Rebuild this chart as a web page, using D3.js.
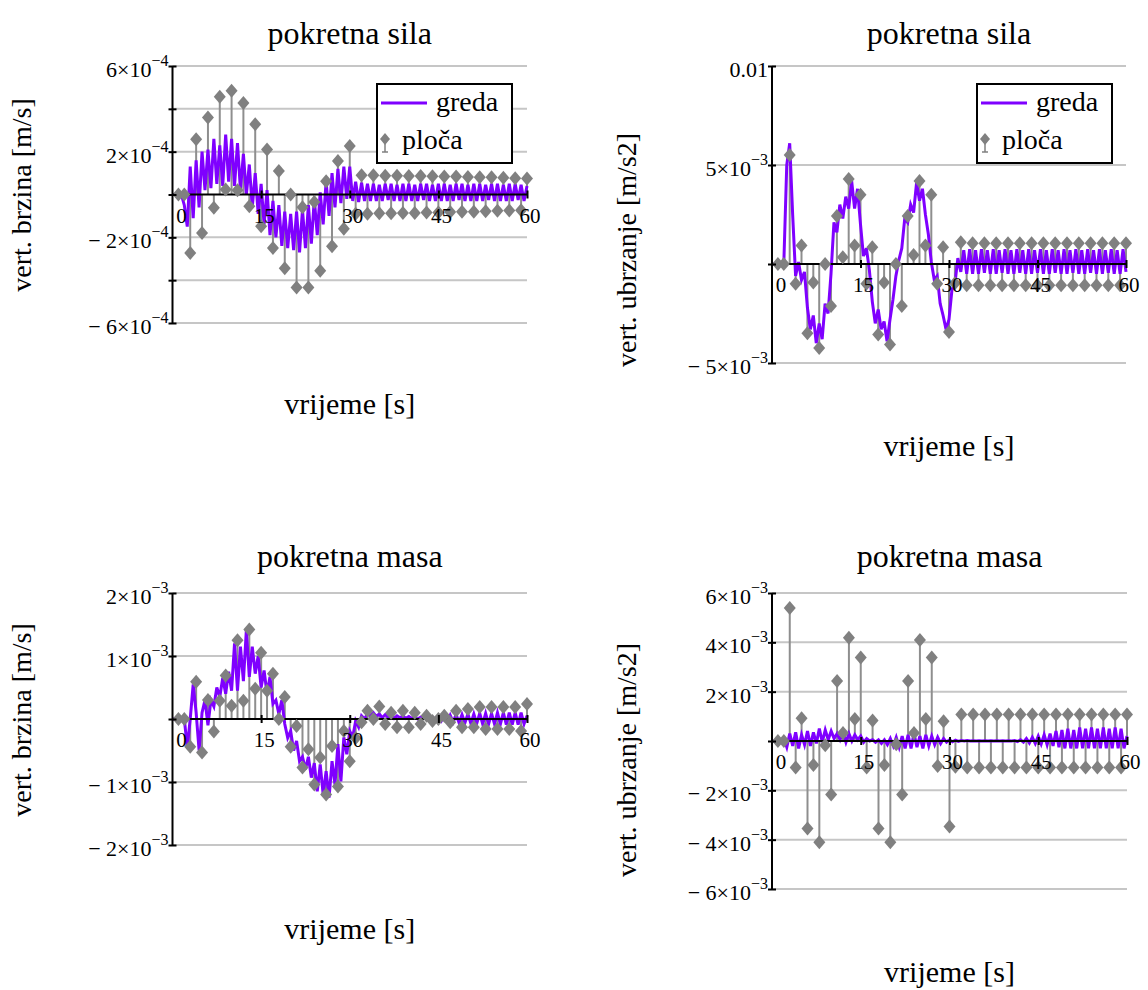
<!DOCTYPE html>
<html><head><meta charset="utf-8">
<script src="https://cdn.jsdelivr.net/npm/d3@7/dist/d3.min.js"></script>
<style>body{margin:0;background:#fff}svg{display:block}text{font-family:"Liberation Serif","Times New Roman",serif;fill:#000}</style>
</head><body>
<script>
// ---------- DATA ----------
// greda sampled every 0.5 s from 0 to 60 s; ploča sampled every 1 s from 1 to 60 s
const gredaTime = d3.range(0, 60.001, 0.5);
const plocaTime = d3.range(1, 61, 1);
const xTicks = [0, 15, 30, 45, 60];

// Panel A: pokretna sila, vert. brzina (x1e-4 m/s)
const unitA = 1e-4;
const gredaA = [
 0,0,0,0,-0.5,-1.5,1.3,-1.1,1.6,-0.6,
 2.0,0.2,2.1,0.3,2.6,0.5,2.3,0.4,2.8,0.6,
 2.6,0.4,2.4,0.2,1.9,0.0,1.4,-0.6,1.0,-0.9,
 0.5,-1.4,0.2,-1.9,-0.3,-2.0,-0.5,-2.4,-0.8,-2.5,
 -0.9,-2.6,-0.8,-2.7,-0.7,-2.5,-0.5,-2.3,-0.2,-1.9,
 0.1,-1.4,0.6,-1.0,1.0,-0.6,1.2,-0.4,1.3,-0.2,
 1.3,-0.3,0.6,-0.35,0.55,-0.3,0.5,-0.3,0.5,-0.3,
 0.45,-0.3,0.5,-0.25,0.5,-0.3,0.45,-0.3,0.5,-0.3,
 0.5,-0.3,0.45,-0.3,0.5,-0.25,0.5,-0.3,0.45,-0.3,
 0.5,-0.3,0.5,-0.3,0.45,-0.3,0.5,-0.25,0.5,-0.3,
 0.45,-0.3,0.5,-0.3,0.5,-0.3,0.45,-0.25,0.5,-0.3,
 0.5,-0.3,0.45,-0.3,0.5,-0.3,0.5,-0.25,0.45,-0.3,
 0.4];
const plocaA = [
 0,0,-2.73,2.58,-1.8,3.6,-0.62,4.56,0.23,4.84,
 0.2,4.27,-0.55,3.28,-1.48,2.1,-2.5,1.1,-3.44,0,
 -4.34,-0.6,-4.34,-0.35,-3.56,0.62,-2.42,1.56,-1.6,2.27,
 -0.9,0.9,-0.9,0.9,-0.88,0.88,-0.88,0.88,-0.86,0.86,
 -0.86,0.86,-0.84,0.85,-0.84,0.84,-0.82,0.84,-0.8,0.82,
 -0.8,0.8,-0.78,0.8,-0.76,0.78,-0.75,0.76,-0.74,0.75];

// Panel B: pokretna sila, vert. ubrzanje (x1e-3 m/s2)
const unitB = 1e-3;
const gredaB = [
 0,0,0,0,0,5.0,6.1,2.5,-0.6,0.1,
 -0.8,-0.4,-2.2,-3.3,-2.6,-4.0,-3.0,-3.8,-2.0,-2.5,
 -0.5,2.1,1.6,3.0,2.3,3.4,2.8,4.2,2.8,3.8,
 2.0,0.4,0.8,-0.3,-1.9,-3.0,-2.3,-3.3,-2.9,-3.9,
 -2.8,-1.8,-0.6,0.2,0.8,2.3,2.1,3.0,2.6,4.1,
 3.2,3.8,2.5,1.5,0.1,-0.8,-0.6,-2.0,-2.6,-3.3,
 -2.8,-1.3,-1.0,0.3,-0.4,0.7,-0.5,0.75,-0.5,0.7,
 -0.5,0.75,-0.45,0.7,-0.5,0.75,-0.5,0.7,-0.45,0.75,
 -0.5,0.7,-0.5,0.75,-0.45,0.7,-0.5,0.75,-0.5,0.7,
 -0.45,0.75,-0.5,0.7,-0.5,0.75,-0.45,0.7,-0.5,0.75,
 -0.5,0.7,-0.45,0.75,-0.5,0.7,-0.5,0.75,-0.45,0.7,
 -0.5,0.75,-0.5,0.7,-0.45,0.75,-0.5,0.7,-0.5,0.75,
 -0.4];
const plocaB = [
 0,0,5.5,-1.0,0.93,-3.5,-0.93,-4.24,0,-2.12,
 2.42,0.34,4.29,0.93,3.5,-1.0,0.85,-3.56,-0.93,-4.07,
 0,-2.12,2.42,0.46,4.19,0.93,3.5,-1.0,0.85,-3.44,
 -0.97,1.1,-1.07,1.05,-1.07,1.05,-1.07,1.05,-1.07,1.05,
 -1.07,1.05,-1.07,1.05,-1.07,1.05,-1.07,1.05,-1.07,1.05,
 -1.07,1.05,-1.07,1.05,-1.07,1.05,-1.07,1.05,-1.07,1.05];

// Panel C: pokretna masa, vert. brzina (x1e-3 m/s)
const unitC = 1e-3;
const gredaC = [
 0,0,0,0,0,-0.45,0.0,0.55,0.1,-0.5,
 0.1,0.3,-0.1,0.3,0.2,0.5,0.35,0.65,0.4,0.75,
 0.45,1.2,0.45,1.15,0.6,1.41,0.67,1.15,0.72,1.0,
 0.5,0.77,0.4,0.67,0.24,0.3,0.08,0.3,-0.08,-0.3,
 -0.19,-0.5,-0.35,-0.67,-0.6,-0.8,-0.6,-0.93,-0.7,-1.15,
 -0.72,-1.2,-0.83,-1.25,-0.67,-1.04,-0.4,-0.99,-0.29,-0.56,
 -0.19,-0.29,-0.03,-0.13,0.05,0.0,0.08,0.05,0.1,0.04,
 0.08,0.02,0.07,0.02,0.06,0.01,0.05,0.02,0.05,0.01,
 0.04,0.01,0.03,0.0,0.03,0.01,0.02,-0.01,0.03,-0.02,
 0.04,-0.03,0.05,-0.04,0.06,-0.05,0.07,-0.06,0.07,-0.06,
 0.08,-0.07,0.08,-0.07,0.09,-0.08,0.09,-0.08,0.09,-0.08,
 0.1,-0.08,0.1,-0.09,0.1,-0.09,0.1,-0.09,0.1,-0.08,
 0.05];
const plocaC = [
 0,0,-0.44,0.59,-0.53,0.30,-0.2,0.29,0.69,0.21,
 1.25,0.29,1.42,0.48,1.05,0.45,0.72,0,0.35,-0.44,
 -0.11,-0.77,-0.48,-1.04,-0.61,-1.2,-0.43,-1.07,-0.19,-0.67,
 -0.3,-0.05,0.13,0.0,0.2,-0.08,0.1,-0.13,0.13,-0.13,
 0.1,-0.08,0.05,-0.03,0.0,0.05,-0.05,0.13,-0.13,0.16,
 -0.13,0.19,-0.16,0.19,-0.16,0.19,-0.16,0.19,-0.19,0.24];

// Panel D: pokretna masa, vert. ubrzanje (x1e-3 m/s2)
const unitD = 1e-3;
const gredaD = [
 0,0,0,0,0.1,-0.25,0.3,-0.2,0.35,-0.3,
 0.25,-0.15,0.4,-0.2,0.35,-0.1,0.5,-0.05,0.45,0.05,
 0.4,0.1,0.3,0.05,0.35,-0.05,0.3,0.0,0.25,0.05,
 0.2,-0.05,0.1,0.0,0.05,-0.05,0.05,-0.1,0.05,-0.15,
 0.1,-0.2,0.15,-0.25,0.2,-0.3,0.25,-0.3,0.3,-0.25,
 0.2,-0.3,0.25,-0.2,0.2,-0.15,0.15,-0.1,0.1,-0.05,
 0.05,-0.03,0.03,-0.02,0.02,0,0.02,0,0.01,0,
 0.01,0,0.01,0,0.01,0,0.01,0,0.01,0,
 0.01,0,0.02,-0.02,0.05,-0.05,0.1,-0.08,0.15,-0.1,
 0.2,-0.12,0.25,-0.15,0.3,-0.2,0.4,-0.25,0.45,-0.3,
 0.5,-0.3,0.45,-0.3,0.55,-0.3,0.5,-0.3,0.55,-0.3,
 0.5,-0.3,0.55,-0.3,0.5,-0.3,0.55,-0.3,0.5,-0.3,
 0.2];
const plocaD = [
 0,0,5.39,-1.07,0.92,-3.55,-0.97,-4.1,-0.17,-2.17,
 2.43,0.32,4.19,0.89,3.39,-1.07,0.83,-3.55,-0.97,-4.1,
 -0.13,-2.17,2.43,0.32,4.09,0.89,3.39,-1.01,0.8,-3.47,
 -1.04,1.07,-1.07,1.07,-1.07,1.07,-1.07,1.07,-1.07,1.07,
 -1.07,1.07,-1.07,1.07,-1.07,1.07,-1.07,1.07,-1.07,1.07,
 -1.07,1.07,-1.07,1.07,-1.07,1.07,-1.07,1.07,-1.07,1.07];

// y tick labels: [value, mantissa text, exponent text]
const yLabelsA = [[6e-4,"6\u00d710","\u22124"],[2e-4,"2\u00d710","\u22124"],[-2e-4,"\u2212 2\u00d710","\u22124"],[-6e-4,"\u2212 6\u00d710","\u22124"]];
const yLabelsB = [[0.01,"0.01",""],[5e-3,"5\u00d710","\u22123"],[-5e-3,"\u2212 5\u00d710","\u22123"]];
const yLabelsC = [[2e-3,"2\u00d710","\u22123"],[1e-3,"1\u00d710","\u22123"],[-1e-3,"\u2212 1\u00d710","\u22123"],[-2e-3,"\u2212 2\u00d710","\u22123"]];
const yLabelsD = [[6e-3,"6\u00d710","\u22123"],[4e-3,"4\u00d710","\u22123"],[2e-3,"2\u00d710","\u22123"],[-2e-3,"\u2212 2\u00d710","\u22123"],[-4e-3,"\u2212 4\u00d710","\u22123"],[-6e-3,"\u2212 6\u00d710","\u22123"]];
const gridA = [6e-4,4e-4,2e-4,0,-2e-4,-4e-4,-6e-4];
const gridB = [0.01,5e-3,0,-5e-3];
const gridC = [2e-3,1e-3,0,-1e-3,-2e-3];
const gridD = [6e-3,4e-3,2e-3,0,-2e-3,-4e-3,-6e-3];
const legendLabels = ["greda","plo\u010da"];

// ---------- DRAW ----------
const svg = d3.select("body").append("svg").attr("width",1148).attr("height",990);
const PURPLE = "#7f00ff", GREY = "#808080", GRID = "#c6c6c6";

function panel(p){
  const x = d3.scaleLinear().domain([0,60]).range([p.left,p.right]);
  const y = d3.scaleLinear().domain(p.yDomain).range([p.bottom,p.top]);
  const g = svg.append("g");
  g.selectAll("line.grid").data(p.grid.filter(v=>v!==0)).join("line")
    .attr("x1",p.left).attr("x2",p.right).attr("y1",d=>y(d)).attr("y2",d=>y(d))
    .attr("stroke",GRID).attr("stroke-width",2);
  const pts = p.ploca.map((v,i)=>({t:plocaTime[i], v:v*p.unit}));
  g.selectAll("line.stem").data(pts).join("line")
    .attr("x1",d=>x(d.t)).attr("x2",d=>x(d.t)).attr("y1",y(0)).attr("y2",d=>y(d.v))
    .attr("stroke","#8e8e8e").attr("stroke-width",2);
  const gl = p.greda.map((v,i)=>({t:gredaTime[i], v:v*p.unit}));
  g.append("path").datum(gl).attr("fill","none").attr("stroke",PURPLE).attr("stroke-width",3)
    .attr("stroke-linejoin","miter")
    .attr("d",d3.line().x(d=>x(d.t)).y(d=>y(d.v)));
  g.append("line").attr("x1",p.left).attr("x2",p.right).attr("y1",y(0)).attr("y2",y(0))
    .attr("stroke","#000").attr("stroke-width",2);
  g.selectAll("path.dia").data(pts).join("path")
    .attr("d","M0,-7L6,0L0,7L-6,0Z").attr("fill",GREY)
    .attr("transform",d=>`translate(${x(d.t)},${y(d.v)})`);
  const xa = d3.axisBottom(x).tickValues(xTicks.slice(1)).tickSize(8).tickFormat("");
  const xg = g.append("g").attr("transform",`translate(0,${y(0)-4})`).call(xa);
  xg.select(".domain").remove();
  xg.selectAll("line").attr("stroke","#000").attr("stroke-width",2);
  const ya = d3.axisLeft(y).tickValues(p.grid).tickSize(8).tickFormat("");
  const yg = g.append("g").attr("transform",`translate(${p.left+4},0)`).call(ya);
  yg.select(".domain").remove();
  yg.selectAll("line").attr("stroke","#000").attr("stroke-width",2);
  g.append("line").attr("x1",p.left).attr("x2",p.left).attr("y1",p.top).attr("y2",p.bottom)
    .attr("stroke","#000").attr("stroke-width",2);
  g.selectAll("text.xt").data(xTicks).join("text")
    .attr("x",d=>x(d)+(d===0?9:3)).attr("y",y(0)+28).attr("text-anchor","middle")
    .attr("font-size",21).text(d=>d);
  const yt = g.selectAll("text.yt").data(p.yLabels).join("text")
    .attr("x",p.left-4).attr("y",d=>y(d[0])+11).attr("text-anchor","end").attr("font-size",22);
  yt.append("tspan").text(d=>d[1]);
  yt.append("tspan").attr("dy",-11).attr("font-size",16).text(d=>d[2]);
  g.append("text").attr("x",(p.left+p.right)/2).attr("y",p.titleY).attr("text-anchor","middle")
    .attr("font-size",32).text(p.title);
  g.append("text").attr("x",(p.left+p.right)/2).attr("y",p.xlabY).attr("text-anchor","middle")
    .attr("font-size",30).text("vrijeme [s]");
  g.append("text").attr("transform",`translate(${p.ylabX},${p.ylabY}) rotate(-90)`)
    .attr("text-anchor","middle").attr("font-size",28).text(p.ylab);
  if(p.legend){
    const L = p.legend;
    const lg = g.append("g").attr("transform",`translate(${L[0]},${L[1]})`);
    lg.append("rect").attr("x",0).attr("y",0).attr("width",135).attr("height",79)
      .attr("fill","#fff").attr("stroke","#000").attr("stroke-width",2);
    lg.append("line").attr("x1",4).attr("x2",50).attr("y1",19).attr("y2",19)
      .attr("stroke",PURPLE).attr("stroke-width",3);
    lg.append("text").attr("x",59).attr("y",27).attr("font-size",28).text(legendLabels[0]);
    lg.append("path").attr("d","M8,49L13,55L8,61L3,55Z").attr("fill",GREY);
    lg.append("line").attr("x1",8).attr("x2",8).attr("y1",60).attr("y2",68).attr("stroke",GREY).attr("stroke-width",1.5);
    lg.append("line").attr("x1",5).attr("x2",11).attr("y1",68).attr("y2",68).attr("stroke",GREY).attr("stroke-width",1.5);
    lg.append("text").attr("x",25).attr("y",65).attr("font-size",28).text(legendLabels[1]);
  }
}

panel({left:172.5,right:527,top:66,bottom:323,yDomain:[-6e-4,6e-4],grid:gridA,yLabels:yLabelsA,
  unit:unitA,greda:gredaA,ploca:plocaA,title:"pokretna sila",titleY:44,xlabY:414,
  ylab:"vert. brzina [m/s]",ylabX:31,ylabY:195,legend:[377,84]});
panel({left:772,right:1126,top:66,bottom:363,yDomain:[-5e-3,1e-2],grid:gridB,yLabels:yLabelsB,
  unit:unitB,greda:gredaB,ploca:plocaB,title:"pokretna sila",titleY:44,xlabY:456,
  ylab:"vert. ubrzanje [m/s2]",ylabX:636,ylabY:250,legend:[977,84]});
panel({left:172.5,right:527,top:593,bottom:845,yDomain:[-2e-3,2e-3],grid:gridC,yLabels:yLabelsC,
  unit:unitC,greda:gredaC,ploca:plocaC,title:"pokretna masa",titleY:567,xlabY:939,
  ylab:"vert. brzina [m/s]",ylabX:31,ylabY:720,legend:null});
panel({left:772,right:1127,top:593,bottom:889,yDomain:[-6e-3,6e-3],grid:gridD,yLabels:yLabelsD,
  unit:unitD,greda:gredaD,ploca:plocaD,title:"pokretna masa",titleY:567,xlabY:982,
  ylab:"vert. ubrzanje [m/s2]",ylabX:636,ylabY:760,legend:null});
</script>
</body></html>
